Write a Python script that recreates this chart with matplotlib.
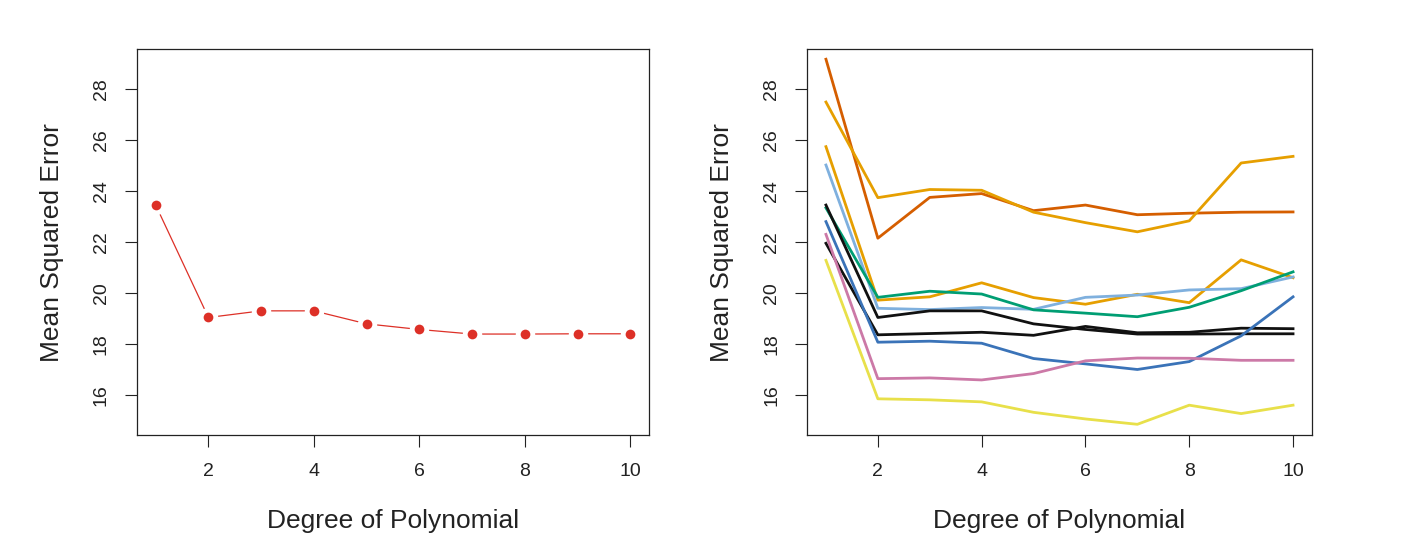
import matplotlib
matplotlib.use("Agg")
import matplotlib.pyplot as plt

plt.rcParams['font.family'] = ['Liberation Sans', 'DejaVu Sans']

degree = [1, 2, 3, 4, 5, 6, 7, 8, 9, 10]

# left: one validation split
single_split = [23.46, 19.05, 19.31, 19.31, 18.80, 18.58, 18.40, 18.40, 18.41, 18.41]

# right: ten random splits
splits = [
    [29.18, 22.16, 23.76, 23.91, 23.24, 23.46, 23.08, 23.14, 23.18, 23.19],
    [27.50, 23.75, 24.07, 24.04, 23.18, 22.77, 22.41, 22.84, 25.11, 25.37],
    [25.75, 19.73, 19.86, 20.41, 19.83, 19.57, 19.96, 19.63, 21.31, 20.61],
    [25.03, 19.41, 19.36, 19.44, 19.37, 19.84, 19.93, 20.13, 20.18, 20.64],
    [23.35, 19.84, 20.08, 19.97, 19.35, 19.22, 19.08, 19.45, 20.10, 20.84],
    [23.46, 19.05, 19.31, 19.31, 18.80, 18.58, 18.40, 18.40, 18.41, 18.41],
    [21.96, 18.37, 18.42, 18.47, 18.35, 18.70, 18.45, 18.47, 18.63, 18.61],
    [22.81, 18.08, 18.12, 18.04, 17.44, 17.23, 17.01, 17.32, 18.33, 19.86],
    [22.31, 16.65, 16.68, 16.60, 16.85, 17.35, 17.46, 17.45, 17.37, 17.37],
    [21.29, 15.86, 15.82, 15.74, 15.33, 15.07, 14.86, 15.61, 15.28, 15.61],
]
split_colors = ['#D55E00', '#E69F00', '#E69F00', '#7FB0DE', '#009E73',
                '#111111', '#111111', '#3A73B8', '#CC79A7', '#E8E04A']

yticks = [16, 18, 20, 22, 24, 26, 28]
xticks = [2, 4, 6, 8, 10]

fig = plt.figure(figsize=(14.21, 5.55), dpi=100)
ax1 = fig.add_axes([0.0962, 0.2162, 0.3607, 0.6950])
ax2 = fig.add_axes([0.5681, 0.2162, 0.3550, 0.6950])

# R type="b": white halo under each point gives the gap in the line
ax1.plot(degree, single_split, color='#DD3027', lw=0.9, zorder=1)
ax1.plot(degree, single_split, 'o', color='white', ms=13, zorder=2)
ax1.plot(degree, single_split, 'o', color='#DD3027', ms=7, mec='none', zorder=3)

for vals, c in zip(splits, split_colors):
    ax2.plot(degree, vals, color=c, lw=2.0)

for ax in (ax1, ax2):
    ax.set_xlim(0.64, 10.36)
    ax.set_ylim(14.44, 29.57)
    ax.set_xticks(xticks)
    ax.set_yticks(yticks)
    ax.tick_params(direction='out', length=8.3, width=0.8, labelsize=14,
                   colors='#222222')
    ax.tick_params(axis='x', pad=12)
    ax.tick_params(axis='y', pad=11)
    for lab in ax.get_yticklabels():
        lab.set_rotation(90)
        lab.set_va('center')
    for s in ax.spines.values():
        s.set_linewidth(0.9)
        s.set_color('#222222')
    ax.set_xlabel('Degree of Polynomial', fontsize=19, color='#222222', labelpad=21)
    ax.set_ylabel('Mean Squared Error', fontsize=19, color='#222222', labelpad=21)

fig.savefig('out.png', dpi=100)
